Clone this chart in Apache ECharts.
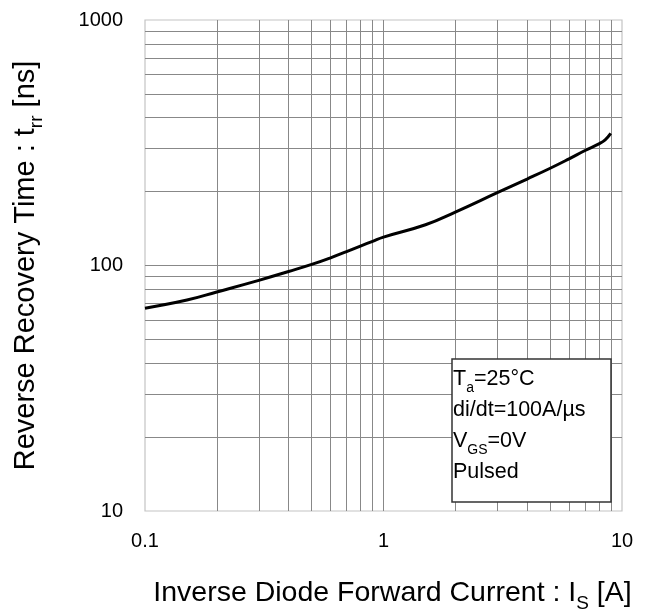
<!DOCTYPE html>
<html>
<head>
<meta charset="utf-8">
<script src="https://cdn.jsdelivr.net/npm/echarts@6/dist/echarts.min.js"></script>
<style>html,body{margin:0;padding:0;background:#fff}#c{width:647px;height:609px}</style>
</head>
<body>
<div id="c"></div>
<script>
// Data
var currentA = [0.1, 0.15, 0.2, 0.3, 0.4, 0.5, 0.6, 0.7, 0.8, 0.9, 1, 1.5, 2, 3, 4, 5, 6, 7, 8, 8.5, 8.97];
var trrNs    = [67, 72.3, 78, 87, 94.5, 101, 107.5, 114, 120, 125.5, 130.5, 146.5, 165, 198, 225, 249, 272, 294, 313, 325, 345];
var xTickLabels = ['0.1', '1', '10'];
var yTickLabels = ['10', '100', '1000'];
var xGridLines = [0.2, 0.3, 0.4, 0.5, 0.6, 0.7, 0.8, 0.9, 1, 2, 3, 4, 5, 6, 7, 8, 9];
var yGridLines = [20, 30, 40, 50, 60, 70, 80, 90, 100, 200, 300, 400, 500, 600, 700, 800, 900];

var FONT = "'Liberation Sans', Arial, sans-serif";
var chart = echarts.init(document.getElementById('c'), null, {renderer: 'canvas'});

function fmt(labels) {
  return function (v) {
    for (var i = 0; i < labels.length; i++) {
      if (Math.abs(parseFloat(labels[i]) - v) < 1e-9 * Math.max(1, v)) return labels[i];
    }
    return '';
  };
}

var markData = [];
xGridLines.forEach(function (v) { markData.push({xAxis: v}); });
yGridLines.forEach(function (v) { markData.push({yAxis: v}); });

chart.setOption({
  animation: false,
  backgroundColor: '#fff',
  grid: {left: 145, top: 20, right: 25, bottom: 98, show: true, borderColor: '#c4c4c4', borderWidth: 1.2,
         containLabel: false, outerBoundsMode: 'none'},
  xAxis: {
    type: 'log', logBase: 10, min: 0.1, max: 10,
    axisLine: {show: false}, axisTick: {show: false}, splitLine: {show: false},
    axisLabel: {formatter: fmt(xTickLabels), fontFamily: FONT, fontSize: 20, color: '#000', margin: 20},
    name: 'Inverse Diode Forward Current : I{s|S} [A]',
    nameLocation: 'middle', nameGap: 62,
    nameTextStyle: {fontFamily: FONT, fontSize: 28.5, color: '#000', padding: [0, 0, 0, 18],
      rich: {s: {fontFamily: FONT, fontSize: 19, color: '#000', verticalAlign: 'bottom', lineHeight: 40}}}
  },
  yAxis: {
    type: 'log', logBase: 10, min: 10, max: 1000,
    axisLine: {show: false}, axisTick: {show: false}, splitLine: {show: false},
    axisLabel: {formatter: fmt(yTickLabels), fontFamily: FONT, fontSize: 20, color: '#000', margin: 22},
    name: 'Reverse Recovery Time : t{s|rr} [ns]',
    nameLocation: 'middle', nameGap: 99, nameRotate: 90,
    nameTextStyle: {fontFamily: FONT, fontSize: 29, color: '#000',
      rich: {s: {fontFamily: FONT, fontSize: 19, color: '#000', verticalAlign: 'bottom', lineHeight: 40}}}
  },
  series: [{
    type: 'line',
    data: currentA.map(function (x, i) { return [x, trrNs[i]]; }),
    smooth: 0.45,
    showSymbol: false,
    lineStyle: {color: '#000', width: 3},
    z: 10,
    markLine: {
      silent: true, symbol: 'none', label: {show: false},
      lineStyle: {color: '#888', width: 1, type: 'solid'},
      emphasis: {disabled: true},
      data: markData
    }
  }],
  graphic: [
    {type: 'rect', z: 100, zlevel: 1, shape: {x: 452, y: 359, width: 159, height: 143},
     style: {fill: '#fff', stroke: '#333', lineWidth: 1.5}},
    {type: 'text', z: 101, zlevel: 1, x: 453, y: 364,
     style: {
       text: '{n|T}{s|a}{n|=25°C}\n{n|di/dt=100A/µs}\n{n|V}{s|GS}{n|=0V}\n{n|Pulsed}',
       rich: {
         n: {fontFamily: FONT, fontSize: 21.5, fill: '#000', lineHeight: 31},
         s: {fontFamily: FONT, fontSize: 14, fill: '#000', lineHeight: 31, verticalAlign: 'bottom'}
       }
     }}
  ]
});
</script>
</body>
</html>
